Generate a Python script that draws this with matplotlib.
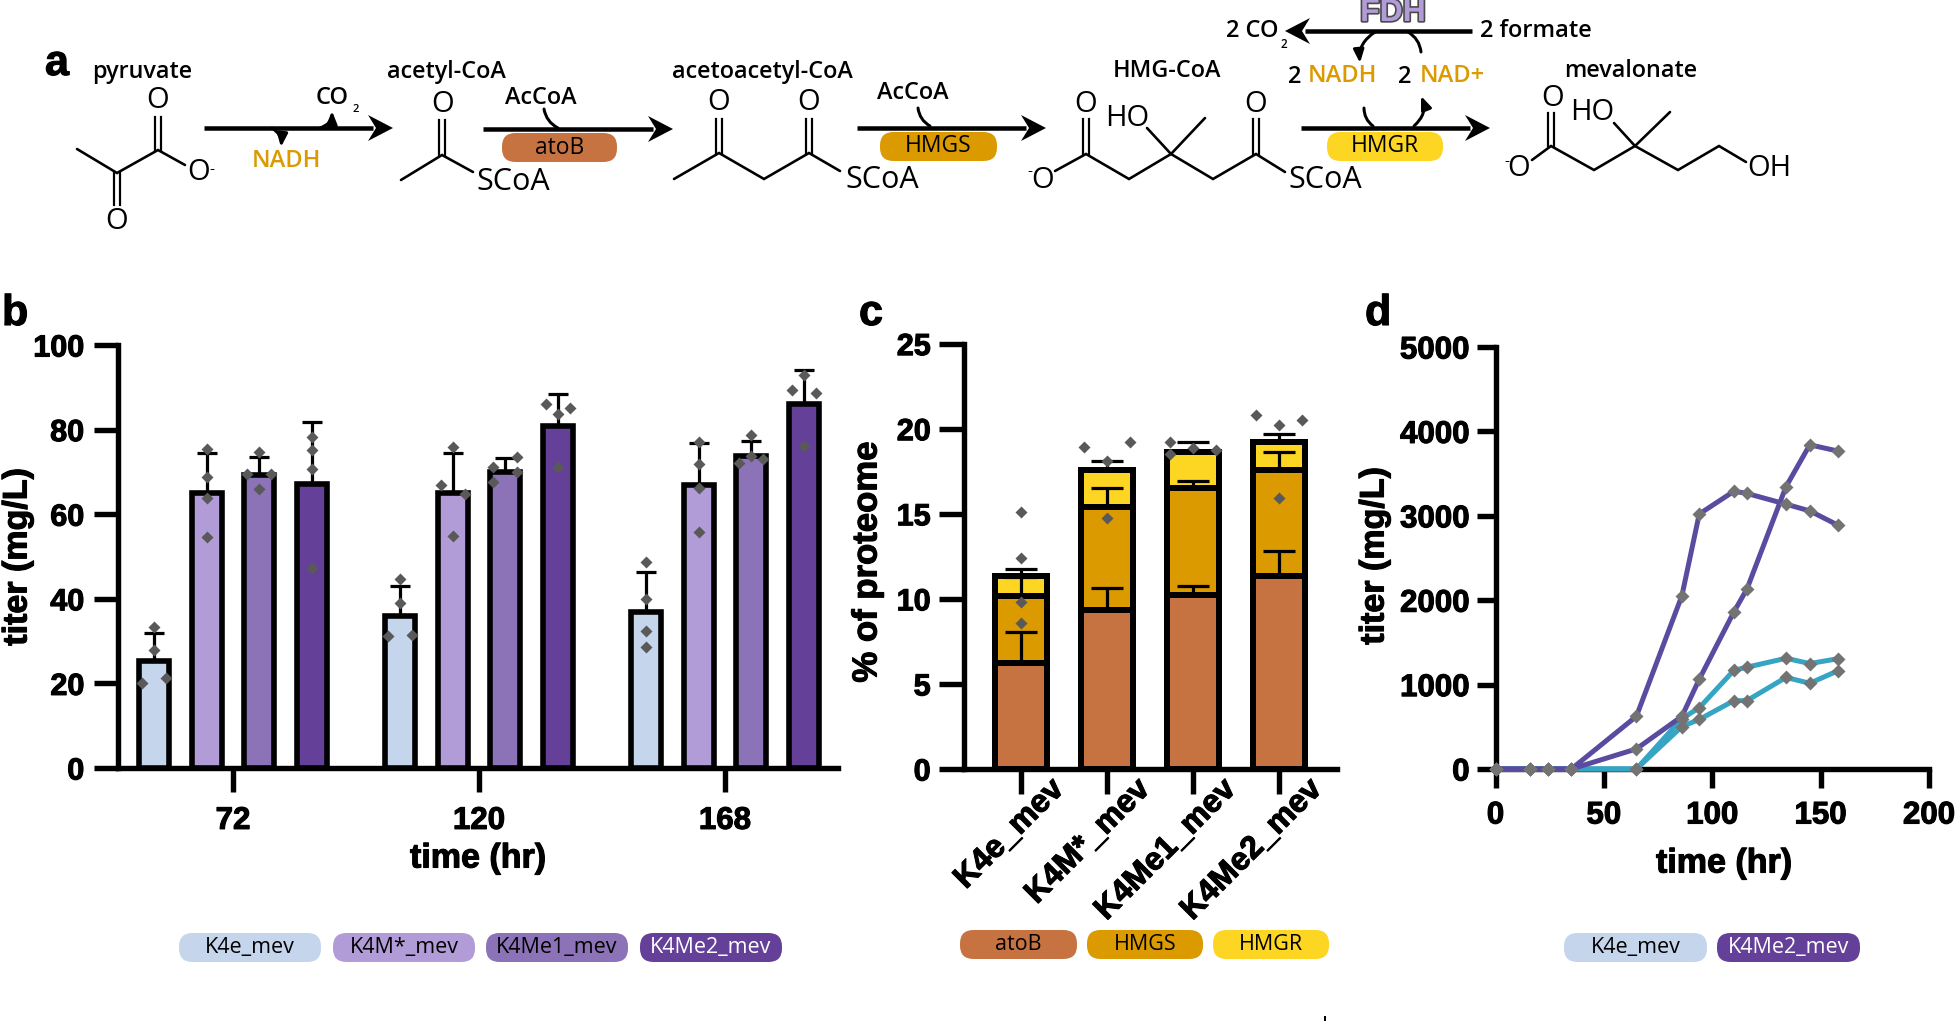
import numpy as np
import matplotlib
matplotlib.use("Agg")
import matplotlib.pyplot as plt
import matplotlib.patheffects as pe
from matplotlib.patches import FancyBboxPatch, FancyArrowPatch, Polygon
from matplotlib.transforms import ScaledTranslation

W, H = 1955, 1021
PX = 72 / 100  # points per pixel at dpi 100

# panel b
b_groups = ["72", "120", "168"]
b_strains = ["K4e_mev", "K4M*_mev", "K4Me1_mev", "K4Me2_mev"]
b_means = [[25.2, 65, 69.3, 67.2], [36, 65.1, 70, 80.9], [36.9, 67, 73.8, 86]]
b_err_top = [[31.9, 74.4, 73.6, 81.9], [43, 74.4, 73.2, 88.4], [46.3, 76.8, 77.3, 94.1]]
# replicate dots: (side, value) side -1 left, 0 centre, 1 right
b_points = [
    [[(0, 33.3), (0, 28), (-1, 20), (1, 21.3)],
     [(0, 75.4), (0, 68.9), (0, 63.9), (0, 54.5)],
     [(0, 74.6), (-1, 69.5), (1, 69.5), (0, 66)],
     [(0, 78.2), (0, 75.2), (0, 70.7), (0, 47.2)]],
    [[(0, 44.6), (0, 39.1), (-1, 31.3), (1, 31.5)],
     [(0, 76), (-1, 66.9), (1, 64.8), (0, 54.9)],
     [(1, 73.6), (-1, 71.2), (1, 69.9), (-1, 67.5)],
     [(-1, 86.1), (1, 85), (0, 83.7), (0, 71.2)]],
    [[(0, 48.7), (0, 40), (0, 32.5), (0, 28.7)],
     [(0, 77), (0, 71.9), (0, 66.1), (0, 55.7)],
     [(0, 78.7), (0, 73.8), (-1, 72.2), (1, 73.1)],
     [(0, 92.8), (-1, 89.4), (1, 88.7), (0, 76.1)]],
]
b_colors = ["#C5D5EC", "#B19CD8", "#8C72B6", "#644099"]

# panel c
c_strains = ["K4e_mev", "K4M*_mev", "K4Me1_mev", "K4Me2_mev"]
c_atob = [6.24, 9.34, 10.2, 11.36]
c_hmgs = [3.94, 6.06, 6.3, 6.24]
c_hmgr = [1.18, 2.2, 2.15, 1.6]
c_err_atob = [1.84, 1.31, 0.53, 1.44]
c_err_hmgs = [1.1, 1.1, 0.45, 1.05]
c_err_hmgr = [0.39, 0.5, 0.55, 0.5]
c_points = [
    [(0, 15.1), (0, 12.4), (0, 9.8), (0, 8.6)],
    [(-1, 18.9), (1, 19.2), (0, 18.1), (0, 14.75)],
    [(-1, 19.2), (-1, 18.5), (0, 18.85), (1, 18.75)],
    [(-1, 20.8), (0, 20.2), (1, 20.5), (0, 15.9)],
]
c_colors = ["#C77341", "#DA9A00", "#FDD623"]

# panel d
d_time = [0, 16, 24, 35, 65, 86, 94, 110, 116, 134, 145, 158]
d_me2_a = [0, 0, 0, 0, 624, 2053, 3021, 3291, 3265, 3138, 3058, 2889]
d_me2_b = [0, 0, 0, 0, 238, 624, 1063, 1862, 2132, 3344, 3841, 3767]
d_k4e_a = [0, 0, 0, 0, 0, 598, 725, 1169, 1206, 1312, 1249, 1307]
d_k4e_b = [0, 0, 0, 0, 0, 503, 587, 810, 810, 1085, 1016, 1164]

plt.rcParams["font.family"] = ["Liberation Sans", "DejaVu Sans"]
fig = plt.figure(figsize=(W / 100, H / 100), dpi=100)

bg = fig.add_axes([0, 0, 1, 1], zorder=5)
bg.set_xlim(0, W)
bg.set_ylim(H, 0)
bg.axis("off")
bg.patch.set_alpha(0)

heavy = [pe.withStroke(linewidth=0.8, foreground="black")]


def make_axes(left, right, top, bottom):
    ax = fig.add_axes([left / W, 1 - bottom / H, (right - left) / W, (bottom - top) / H])
    ax.spines[["top", "right"]].set_visible(False)
    ax.spines[["left", "bottom"]].set_linewidth(5.4 * PX)
    ax.patch.set_alpha(0)
    return ax


def label(x, y, s, size=15, color="black", weight="normal", family="Open Sans", **kw):
    kw.setdefault("ha", "center")
    kw.setdefault("va", "center")
    return bg.text(x, y, s, fontsize=size, color=color, fontweight=weight, family=family, **kw)


def axis_label(x, y, s, size=24.5, **kw):
    t = label(x, y, s, size=size, weight="bold", family="Liberation Sans", **kw)
    t.set_path_effects(heavy)


def bold_ticks(ax):
    for t in ax.get_xticklabels() + ax.get_yticklabels():
        t.set_fontweight("bold")
        t.set_path_effects(heavy)


def pill(x0, x1, y0, y1, color, text, tcolor="black", size=15.5):
    r = (y1 - y0) / 2 - 1
    bg.add_patch(FancyBboxPatch((x0 + r, y0 + r), x1 - x0 - 2 * r, y1 - y0 - 2 * r,
                                boxstyle="round,pad=%f,rounding_size=%f" % (r, r),
                                fc=color, ec="none"))
    label((x0 + x1) / 2, (y0 + y1) / 2, text, size=size, color=tcolor)


def bonds(*pts):
    xs = [p[0] for p in pts]
    ys = [p[1] for p in pts]
    bg.plot(xs, ys, color="black", lw=2.6 * PX, solid_capstyle="round", solid_joinstyle="miter")


def double(x, y0, y1):
    bg.plot([x - 2.6, x - 2.6], [y0, y1], color="black", lw=2.2 * PX)
    bg.plot([x + 2.6, x + 2.6], [y0, y1], color="black", lw=2.2 * PX)


def big_arrow(x0, x1, y):
    d = 1 if x1 > x0 else -1
    bg.plot([x0, x1 - d * 20], [y, y], color="black", lw=4.5 * PX, solid_capstyle="butt")
    bg.add_patch(Polygon([(x1, y), (x1 - d * 25, y - 13), (x1 - d * 17, y), (x1 - d * 25, y + 13)],
                         fc="black", ec="none"))


def curve(p0, p1, rad, head=True):
    style = "-|>,head_length=0.55,head_width=0.22" if head else "-"
    bg.add_patch(FancyArrowPatch(p0, p1, connectionstyle="arc3,rad=%f" % rad, arrowstyle=style,
                                 mutation_scale=14, lw=3 * PX, color="black", shrinkA=0, shrinkB=0))


def dots(ax, xs, ys):
    ax.plot(xs, ys, ls="none", marker="D", ms=9 * PX, color="#595959", mec="none",
            zorder=6, clip_on=False)


# ---- panel a ----
t = label(45, 75, "a", size=31, weight="bold", family="Liberation Sans", ha="left", va="baseline")
t.set_path_effects(heavy)
for x, y, s in [(142, 72, "pyruvate"), (446, 72, "acetyl-CoA"), (762, 72, "acetoacetyl-CoA"),
                (1167, 71, "HMG-CoA"), (1631, 71, "mevalonate"), (541, 98, "AcCoA"), (913, 93, "AcCoA")]:
    label(x, y, s, size=16.8, weight="semibold")

# pyruvate
bonds((77, 149), (117, 173), (158, 150), (185, 165))
double(158, 150, 117)
double(117, 173, 205)
label(158, 101, "O", size=21)
label(117, 221, "O", size=21)
label(199, 173, "O", size=21)
label(212, 170, "-", size=11)
big_arrow(204, 393, 128)
label(286, 161, "NADH", size=17, color="#DA9A00", weight="semibold")
curve((272, 128), (281, 147), -0.3)
curve((320, 128), (332, 111), 0.35)
label(332, 98, "CO", size=17, weight="semibold")
label(356, 109, "2", size=8, weight="semibold")

# acetyl-CoA
bonds((401, 180), (442, 155), (473, 172))
double(442, 155, 120)
label(443, 104, "O", size=21)
label(513, 182, "SCoA", size=22)
big_arrow(483, 673, 129)
curve((544, 109), (558, 128), 0.25, head=False)
pill(502, 617, 133, 162, c_colors[0], "atoB", size=16.5)

# acetoacetyl-CoA
bonds((674, 179), (719, 153), (764, 179), (809, 153), (840, 171))
double(719, 153, 119)
double(809, 153, 119)
label(719, 103, "O", size=21)
label(809, 103, "O", size=21)
label(882, 180, "SCoA", size=22)
big_arrow(857, 1046, 128)
curve((918, 108), (930, 126), 0.25, head=False)
pill(880, 997, 132, 161, c_colors[1], "HMGS", size=16.5)

# HMG-CoA
bonds((1055, 171), (1086, 154), (1129, 179), (1171, 154), (1213, 179), (1256, 154), (1285, 172))
bonds((1171, 154), (1147, 128))
bonds((1171, 154), (1205, 118))
double(1086, 154, 119)
double(1256, 154, 119)
label(1086, 104, "O", size=21)
label(1256, 104, "O", size=21)
label(1127, 119, "HO", size=21)
label(1043, 180, "O", size=21)
label(1030, 172, "-", size=11)
label(1325, 180, "SCoA", size=22)
big_arrow(1301, 1490, 128)
curve((1364, 108), (1373, 126), 0.25, head=False)
curve((1414, 126), (1421, 96), 0.35)
pill(1327, 1443, 132, 161, c_colors[2], "HMGR", size=16.5)

# mevalonate
bonds((1532, 160), (1551, 146), (1594, 170), (1635, 146), (1678, 170), (1719, 146), (1746, 162))
bonds((1635, 146), (1614, 123))
bonds((1635, 146), (1670, 112))
double(1551, 146, 113)
label(1553, 98, "O", size=21)
label(1592, 112, "HO", size=21)
label(1519, 169, "O", size=21)
label(1507, 162, "-", size=11)
label(1769, 169, "OH", size=21)

# formate recycling
big_arrow(1472, 1285, 31)
label(1252, 31, "2 CO", size=17, weight="semibold")
label(1284, 44, "2", size=8.5, weight="semibold")
label(1536, 31, "2 formate", size=17, weight="semibold")
label(1295, 77, "2", size=17, weight="semibold")
label(1342, 76, "NADH", size=17, color="#DA9A00", weight="semibold")
label(1405, 77, "2", size=17, weight="semibold")
label(1452, 76, "NAD+", size=17, color="#DA9A00", weight="semibold")
curve((1375, 32), (1360, 63), 0.3)
curve((1408, 32), (1421, 52), -0.25, head=False)
t = label(1393, 13, "FDH", size=23, weight="bold", family="Liberation Sans", color="#B19CD8")
t.set_path_effects([pe.withStroke(linewidth=2.4, foreground="#4A4A4A")])

# stray mark at the bottom edge
bg.plot([1325, 1325], [1017, 1021], color="black", lw=2 * PX)

# panel letters
for x, s in [(2, "b"), (859, "c"), (1365, "d")]:
    t = label(x, 325, s, size=31, weight="bold", family="Liberation Sans", ha="left", va="baseline")
    t.set_path_effects(heavy)

# ---- panel b ----
ax = make_axes(118, 838, 345, 768)
group_gap = 246 / 52.6
offset = 12 / 52.6
ticks = []
for g in range(3):
    centre = g * group_gap
    ticks.append(centre)
    for s in range(4):
        x = centre + s - 1.5
        ax.bar(x, b_means[g][s], width=0.57, color=b_colors[s], edgecolor="black", linewidth=5.6 * PX, zorder=3)
        ax.errorbar(x, b_means[g][s], yerr=[[0], [b_err_top[g][s] - b_means[g][s]]], color="black",
                    elinewidth=3.2 * PX, capsize=10 * PX, capthick=3.2 * PX, zorder=2.8, clip_on=False)
        dots(ax, [x + p[0] * offset for p in b_points[g][s]], [p[1] for p in b_points[g][s]])
ax.set_xlim(-115 / 52.6, 605 / 52.6)
ax.set_ylim(0, 100)
ax.set_xticks(ticks)
ax.set_xticklabels(b_groups)
ax.set_yticks(range(0, 101, 20))
ax.tick_params(axis="both", length=24 * PX, width=5.4 * PX, labelsize=22)
ax.tick_params(axis="x", pad=10, labelsize=22.5)
ax.tick_params(axis="y", pad=7)
bold_ticks(ax)
axis_label(18, 557, "titer (mg/L)", rotation=90)
axis_label(478, 859, "time (hr)")

# ---- panel c ----
ax = make_axes(964, 1337, 343.6, 769)
xc = np.arange(4)
atob = np.array(c_atob)
hmgs = np.array(c_hmgs)
hmgr = np.array(c_hmgr)
ax.bar(xc, atob, width=0.605, color=c_colors[0], edgecolor="black", linewidth=6 * PX, zorder=3)
ax.bar(xc, hmgs, bottom=atob, width=0.605, color=c_colors[1], edgecolor="black", linewidth=6 * PX, zorder=3)
ax.bar(xc, hmgr, bottom=atob + hmgs, width=0.605, color=c_colors[2], edgecolor="black", linewidth=6 * PX, zorder=3)
for base, err in [(atob, c_err_atob), (atob + hmgs, c_err_hmgs), (atob + hmgs + hmgr, c_err_hmgr)]:
    ax.errorbar(xc, base, yerr=[np.zeros(4), err], ls="none", color="black", elinewidth=3.2 * PX,
                capsize=16 * PX, capthick=3.2 * PX, zorder=4, clip_on=False)
for i, pts in enumerate(c_points):
    dots(ax, [i + p[0] * 23 / 86 for p in pts], [p[1] for p in pts])
ax.set_xlim(-57 / 86, 316 / 86)
ax.set_ylim(0, 25)
ax.set_xticks(xc)
ax.set_xticklabels(c_strains, rotation=45, ha="right", rotation_mode="anchor")
ax.set_yticks(range(0, 26, 5))
ax.tick_params(axis="both", length=25 * PX, width=5.4 * PX, labelsize=22, pad=0)
ax.tick_params(axis="x", labelsize=23)
ax.tick_params(axis="y", pad=6)
bold_ticks(ax)
for t in ax.get_xticklabels():
    t.set_transform(t.get_transform() + ScaledTranslation(28 / 100, 20 / 100, fig.dpi_scale_trans))
axis_label(867, 562, "% of proteome", size=25, rotation=90)

# ---- panel d ----
ax = make_axes(1495.5, 1929, 347, 769)
for series, col in [(d_k4e_a, "#36A5C4"), (d_k4e_b, "#36A5C4"), (d_me2_a, "#5B4BA0"), (d_me2_b, "#5B4BA0")]:
    ax.plot(d_time, series, color=col, lw=5 * PX, zorder=4, clip_on=False)
for series in [d_k4e_a, d_k4e_b, d_me2_a, d_me2_b]:
    ax.plot(d_time, series, ls="none", marker="D", ms=9.8 * PX, color="#737373", mec="none", zorder=6, clip_on=False)
ax.set_xlim(0, 200)
ax.set_ylim(0, 5000)
ax.set_xticks(range(0, 201, 50))
ax.set_yticks(range(0, 5001, 1000))
ax.tick_params(axis="both", length=19 * PX, width=5.4 * PX, labelsize=22.5)
ax.tick_params(axis="x", pad=9)
ax.tick_params(axis="y", pad=5)
bold_ticks(ax)
axis_label(1375, 556, "titer (mg/L)", rotation=90)
axis_label(1724, 864, "time (hr)")

# ---- legend pills ----
for x0, x1, col, s, tc in [(179, 321, b_colors[0], b_strains[0], "black"), (333, 475, b_colors[1], b_strains[1], "black"),
                           (486, 628, b_colors[2], b_strains[2], "black"), (640, 782, b_colors[3], b_strains[3], "white")]:
    pill(x0, x1, 933, 962, col, s, tc)
for x0, x1, col, s in [(960, 1077, c_colors[0], "atoB"), (1087, 1203, c_colors[1], "HMGS"), (1213, 1329, c_colors[2], "HMGR")]:
    pill(x0, x1, 930, 959, col, s)
pill(1564, 1707, 933, 962, b_colors[0], "K4e_mev")
pill(1717, 1860, 933, 962, b_colors[3], "K4Me2_mev", "white")

fig.savefig("out.png", dpi=100)
